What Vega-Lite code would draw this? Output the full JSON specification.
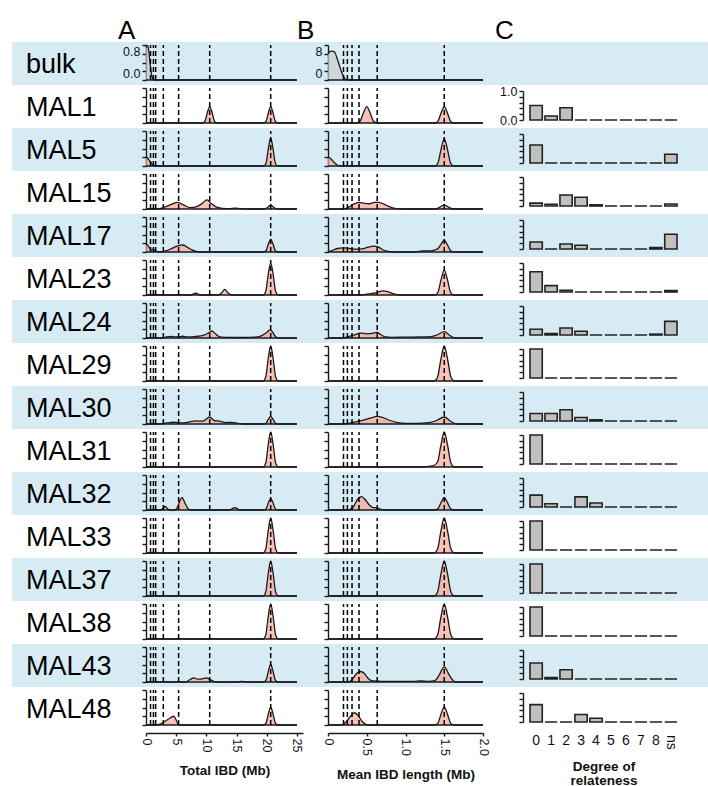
{
"$schema":"https://vega.github.io/schema/vega-lite/v6.json",
"padding":{"left":12,"top":18,"right":0,"bottom":4},
"background":"white",
"columns":4,
"spacing":0,
"bounds":"flush",
"align":"each",
"datasets":{
"dashA":[{"x":0.75},{"x":1.23},{"x":1.6},{"x":2.87},{"x":5.4},{"x":10.55},{"x":20.65}],
"dashB":[{"x":0.2},{"x":0.25},{"x":0.31},{"x":0.4},{"x":0.635},{"x":1.5}]
},
"concat":[
{"width":134,"height":43,"view":{"fill":"#d6ebf3"},"data":{"values":[{"s":"bulk"}]},"mark":{"type":"text","align":"left","baseline":"alphabetic","dy":9,"fontSize":27,"color":"#000"},"encoding":{"text":{"field":"s"},"x":{"datum":0,"type":"quantitative","scale":{"domain":[0,1],"range":[14,134]},"axis":null}}},
{"width":182,"height":43,"view":{"fill":"#d6ebf3"},"title":{"text":"A","dx":-28,"offset":-2},"layer":[
{"data":{"values":[{"x":0,"y":0.74},{"x":0.15,"y":0.79},{"x":0.35,"y":0.76},{"x":0.6,"y":0.48},{"x":0.85,"y":0.18},{"x":1.1,"y":0.04},{"x":1.4,"y":0},{"x":25,"y":0}]},"mark":{"type":"area","interpolate":"monotone","color":"#c9ced1","line":{"color":"#1a1a1a","strokeWidth":1.3}},"encoding":{"x":{"field":"x","type":"quantitative","title":null,"scale":{"domain":[0,25],"range":[0,157]},"axis":null},"y":{"field":"y","type":"quantitative","title":null,"scale":{"domain":[0,0.8],"range":[38,3]},"axis":{"values":[0,0.2,0.4,0.6,0.8],"labels":true,"labelFlush":true,"labelExpr":"datum.value==0||datum.value==0.8?format(datum.value,'.1f'):''"}}}},
{"data":{"values":[{}]},"mark":{"type":"rule","color":"#1a1a1a","strokeWidth":1.4},"encoding":{"x":{"datum":0,"axis":null,"title":null},"x2":{"datum":25},"y":{"datum":0,"title":null,"axis":{"values":[0,0.2,0.4,0.6,0.8],"labels":true,"labelFlush":true,"labelExpr":"datum.value==0||datum.value==0.8?format(datum.value,'.1f'):''"}}}},
{"data":{"name":"dashA"},"mark":{"type":"rule","color":"#000","strokeDash":[5,3],"strokeWidth":1.5},"encoding":{"x":{"field":"x","type":"quantitative","axis":null,"title":null},"y":{"datum":0,"title":null,"axis":{"values":[0,0.2,0.4,0.6,0.8],"labels":true,"labelFlush":true,"labelExpr":"datum.value==0||datum.value==0.8?format(datum.value,'.1f'):''"}},"y2":{"datum":0.8}}}]},
{"width":195,"height":43,"view":{"fill":"#d6ebf3"},"title":{"text":"B","dx":-31,"offset":-2},"layer":[
{"data":{"values":[{"x":0,"y":6.0},{"x":0.04,"y":6.6},{"x":0.08,"y":6.5},{"x":0.12,"y":4.8},{"x":0.16,"y":2.6},{"x":0.2,"y":0.8},{"x":0.23,"y":0.1},{"x":0.26,"y":0},{"x":2,"y":0}]},"mark":{"type":"area","interpolate":"monotone","color":"#c9ced1","line":{"color":"#1a1a1a","strokeWidth":1.3}},"encoding":{"x":{"field":"x","type":"quantitative","title":null,"scale":{"domain":[0,2],"range":[0,155]},"axis":null},"y":{"field":"y","type":"quantitative","title":null,"scale":{"domain":[0,8],"range":[38,3]},"axis":{"values":[0,2,4,6,8],"labels":true,"labelFlush":true,"labelExpr":"datum.value==0||datum.value==8?datum.label:''"}}}},
{"data":{"values":[{}]},"mark":{"type":"rule","color":"#1a1a1a","strokeWidth":1.4},"encoding":{"x":{"datum":0,"axis":null,"title":null},"x2":{"datum":2},"y":{"datum":0,"title":null,"axis":{"values":[0,2,4,6,8],"labels":true,"labelFlush":true,"labelExpr":"datum.value==0||datum.value==8?datum.label:''"}}}},
{"data":{"name":"dashB"},"mark":{"type":"rule","color":"#000","strokeDash":[5,3],"strokeWidth":1.5},"encoding":{"x":{"field":"x","type":"quantitative","axis":null,"title":null},"y":{"datum":0,"title":null,"axis":{"values":[0,2,4,6,8],"labels":true,"labelFlush":true,"labelExpr":"datum.value==0||datum.value==8?datum.label:''"}},"y2":{"datum":8}}}]},
{"width":185,"height":43,"view":{"fill":"#d6ebf3"},"title":{"text":"C","dx":-28,"offset":-2},"data":{"values":[{}]},"mark":{"type":"text","text":""},"encoding":{}},

{"width":134,"height":43,"view":{"fill":"#ffffff"},"data":{"values":[{"s":"MAL1"}]},"mark":{"type":"text","align":"left","baseline":"alphabetic","dy":9,"fontSize":27,"color":"#000"},"encoding":{"text":{"field":"s"},"x":{"datum":0,"type":"quantitative","scale":{"domain":[0,1],"range":[14,134]},"axis":null}}},
{"width":182,"height":43,"view":{"fill":"#ffffff"},"layer":[
{"data":{"values":[{"x":0,"y":0},{"x":9.35,"y":0},{"x":9.77,"y":0.056},{"x":10.13,"y":0.28},{"x":10.55,"y":0.47},{"x":10.97,"y":0.28},{"x":11.33,"y":0.056},{"x":11.75,"y":0},{"x":19.5,"y":0},{"x":19.9,"y":0.056},{"x":20.25,"y":0.28},{"x":20.65,"y":0.47},{"x":21.05,"y":0.28},{"x":21.4,"y":0.056},{"x":21.8,"y":0},{"x":25,"y":0}]},"mark":{"type":"area","interpolate":"monotone","color":"#f6a596","line":{"color":"#1a1a1a","strokeWidth":1.3}},"encoding":{"x":{"field":"x","type":"quantitative","title":null,"scale":{"domain":[0,25],"range":[0,157]},"axis":null},"y":{"field":"y","type":"quantitative","title":null,"scale":{"domain":[0,1],"range":[38,3]},"axis":{"values":[0,0.25,0.5,0.75,1]}}}},
{"data":{"values":[{}]},"mark":{"type":"rule","color":"#1a1a1a","strokeWidth":1.4},"encoding":{"x":{"datum":0,"axis":null,"title":null},"x2":{"datum":25},"y":{"datum":0,"title":null,"axis":{"values":[0,0.25,0.5,0.75,1]}}}},
{"data":{"name":"dashA"},"mark":{"type":"rule","color":"#000","strokeDash":[5,3],"strokeWidth":1.5},"encoding":{"x":{"field":"x","type":"quantitative","axis":null,"title":null},"y":{"datum":0,"title":null,"axis":{"values":[0,0.25,0.5,0.75,1]}},"y2":{"datum":1}}}]},
{"width":195,"height":43,"view":{"fill":"#ffffff"},"layer":[
{"data":{"values":[{"x":0,"y":0},{"x":0.37,"y":0},{"x":0.415,"y":0.056},{"x":0.455,"y":0.28},{"x":0.5,"y":0.47},{"x":0.545,"y":0.28},{"x":0.585,"y":0.056},{"x":0.63,"y":0},{"x":1.38,"y":0},{"x":1.42,"y":0.056},{"x":1.458,"y":0.28},{"x":1.5,"y":0.47},{"x":1.542,"y":0.28},{"x":1.58,"y":0.056},{"x":1.62,"y":0},{"x":2,"y":0}]},"mark":{"type":"area","interpolate":"monotone","color":"#f6a596","line":{"color":"#1a1a1a","strokeWidth":1.3}},"encoding":{"x":{"field":"x","type":"quantitative","title":null,"scale":{"domain":[0,2],"range":[0,155]},"axis":null},"y":{"field":"y","type":"quantitative","title":null,"scale":{"domain":[0,1],"range":[38,3]},"axis":{"values":[0,0.25,0.5,0.75,1]}}}},
{"data":{"values":[{}]},"mark":{"type":"rule","color":"#1a1a1a","strokeWidth":1.4},"encoding":{"x":{"datum":0,"axis":null,"title":null},"x2":{"datum":2},"y":{"datum":0,"title":null,"axis":{"values":[0,0.25,0.5,0.75,1]}}}},
{"data":{"name":"dashB"},"mark":{"type":"rule","color":"#000","strokeDash":[5,3],"strokeWidth":1.5},"encoding":{"x":{"field":"x","type":"quantitative","axis":null,"title":null},"y":{"datum":0,"title":null,"axis":{"values":[0,0.25,0.5,0.75,1]}},"y2":{"datum":1}}}]},
{"width":185,"height":43,"view":{"fill":"#ffffff"},"data":{"values":[{"d":"0","v":0.5},{"d":"1","v":0.14},{"d":"2","v":0.42},{"d":"3","v":0},{"d":"4","v":0},{"d":"5","v":0},{"d":"6","v":0},{"d":"7","v":0},{"d":"8","v":0},{"d":"ns","v":0}]},"mark":{"type":"bar","color":"#c0c0c0","stroke":"#222","strokeWidth":1.6},"encoding":{"x":{"field":"d","type":"nominal","sort":null,"title":null,"scale":{"domain":["0","1","2","3","4","5","6","7","8","ns"],"range":[7,154],"paddingInner":0.18,"paddingOuter":0},"axis":null},"y":{"field":"v","type":"quantitative","title":null,"scale":{"domain":[0,1],"range":[35,6]},"axis":{"values":[0,0.2,0.4,0.6,0.8,1],"labels":true,"labelExpr":"datum.value==0||datum.value==1?format(datum.value,'.1f'):''"}}}},

{"width":134,"height":43,"view":{"fill":"#d6ebf3"},"data":{"values":[{"s":"MAL5"}]},"mark":{"type":"text","align":"left","baseline":"alphabetic","dy":9,"fontSize":27,"color":"#000"},"encoding":{"text":{"field":"s"},"x":{"datum":0,"type":"quantitative","scale":{"domain":[0,1],"range":[14,134]},"axis":null}}},
{"width":182,"height":43,"view":{"fill":"#d6ebf3"},"layer":[
{"data":{"values":[{"x":0,"y":0.26},{"x":0.3,"y":0.22},{"x":0.7,"y":0.12},{"x":1.1,"y":0.04},{"x":1.6,"y":0},{"x":19.5,"y":0},{"x":19.9,"y":0.096},{"x":20.25,"y":0.48},{"x":20.65,"y":0.8},{"x":21.05,"y":0.48},{"x":21.4,"y":0.096},{"x":21.8,"y":0},{"x":25,"y":0}]},"mark":{"type":"area","interpolate":"monotone","color":"#f6a596","line":{"color":"#1a1a1a","strokeWidth":1.3}},"encoding":{"x":{"field":"x","type":"quantitative","title":null,"scale":{"domain":[0,25],"range":[0,157]},"axis":null},"y":{"field":"y","type":"quantitative","title":null,"scale":{"domain":[0,1],"range":[38,3]},"axis":{"values":[0,0.25,0.5,0.75,1]}}}},
{"data":{"values":[{}]},"mark":{"type":"rule","color":"#1a1a1a","strokeWidth":1.4},"encoding":{"x":{"datum":0,"axis":null,"title":null},"x2":{"datum":25},"y":{"datum":0,"title":null,"axis":{"values":[0,0.25,0.5,0.75,1]}}}},
{"data":{"name":"dashA"},"mark":{"type":"rule","color":"#000","strokeDash":[5,3],"strokeWidth":1.5},"encoding":{"x":{"field":"x","type":"quantitative","axis":null,"title":null},"y":{"datum":0,"title":null,"axis":{"values":[0,0.25,0.5,0.75,1]}},"y2":{"datum":1}}}]},
{"width":195,"height":43,"view":{"fill":"#d6ebf3"},"layer":[
{"data":{"values":[{"x":0,"y":0.26},{"x":0.04,"y":0.2},{"x":0.08,"y":0.1},{"x":0.12,"y":0.03},{"x":0.16,"y":0},{"x":1.38,"y":0},{"x":1.42,"y":0.094},{"x":1.458,"y":0.47},{"x":1.5,"y":0.78},{"x":1.542,"y":0.47},{"x":1.58,"y":0.094},{"x":1.62,"y":0},{"x":2,"y":0}]},"mark":{"type":"area","interpolate":"monotone","color":"#f6a596","line":{"color":"#1a1a1a","strokeWidth":1.3}},"encoding":{"x":{"field":"x","type":"quantitative","title":null,"scale":{"domain":[0,2],"range":[0,155]},"axis":null},"y":{"field":"y","type":"quantitative","title":null,"scale":{"domain":[0,1],"range":[38,3]},"axis":{"values":[0,0.25,0.5,0.75,1]}}}},
{"data":{"values":[{}]},"mark":{"type":"rule","color":"#1a1a1a","strokeWidth":1.4},"encoding":{"x":{"datum":0,"axis":null,"title":null},"x2":{"datum":2},"y":{"datum":0,"title":null,"axis":{"values":[0,0.25,0.5,0.75,1]}}}},
{"data":{"name":"dashB"},"mark":{"type":"rule","color":"#000","strokeDash":[5,3],"strokeWidth":1.5},"encoding":{"x":{"field":"x","type":"quantitative","axis":null,"title":null},"y":{"datum":0,"title":null,"axis":{"values":[0,0.25,0.5,0.75,1]}},"y2":{"datum":1}}}]},
{"width":185,"height":43,"view":{"fill":"#d6ebf3"},"data":{"values":[{"d":"0","v":0.62},{"d":"1","v":0},{"d":"2","v":0},{"d":"3","v":0},{"d":"4","v":0},{"d":"5","v":0},{"d":"6","v":0},{"d":"7","v":0},{"d":"8","v":0},{"d":"ns","v":0.3}]},"mark":{"type":"bar","color":"#c0c0c0","stroke":"#222","strokeWidth":1.6},"encoding":{"x":{"field":"d","type":"nominal","sort":null,"title":null,"scale":{"domain":["0","1","2","3","4","5","6","7","8","ns"],"range":[7,154],"paddingInner":0.18,"paddingOuter":0},"axis":null},"y":{"field":"v","type":"quantitative","title":null,"scale":{"domain":[0,1],"range":[35,6]},"axis":{"values":[0,0.2,0.4,0.6,0.8,1]}}}},

{"width":134,"height":43,"view":{"fill":"#ffffff"},"data":{"values":[{"s":"MAL15"}]},"mark":{"type":"text","align":"left","baseline":"alphabetic","dy":9,"fontSize":27,"color":"#000"},"encoding":{"text":{"field":"s"},"x":{"datum":0,"type":"quantitative","scale":{"domain":[0,1],"range":[14,134]},"axis":null}}},
{"width":182,"height":43,"view":{"fill":"#ffffff"},"layer":[
{"data":{"values":[{"x":0,"y":0},{"x":2.0,"y":0},{"x":3.0,"y":0.05},{"x":4.2,"y":0.13},{"x":5.2,"y":0.19},{"x":6.2,"y":0.12},{"x":7.3,"y":0.04},{"x":8.3,"y":0.06},{"x":9.3,"y":0.16},{"x":10.1,"y":0.26},{"x":10.8,"y":0.16},{"x":11.6,"y":0.06},{"x":12.6,"y":0.02},{"x":13.8,"y":0.01},{"x":14.7,"y":0.025},{"x":15.6,"y":0.01},{"x":17,"y":0},{"x":19.6,"y":0},{"x":20.0,"y":0.03},{"x":20.3,"y":0.07},{"x":20.65,"y":0.11},{"x":21.0,"y":0.07},{"x":21.3,"y":0.03},{"x":21.7,"y":0},{"x":25,"y":0}]},"mark":{"type":"area","interpolate":"monotone","color":"#f6a596","line":{"color":"#1a1a1a","strokeWidth":1.3}},"encoding":{"x":{"field":"x","type":"quantitative","title":null,"scale":{"domain":[0,25],"range":[0,157]},"axis":null},"y":{"field":"y","type":"quantitative","title":null,"scale":{"domain":[0,1],"range":[38,3]},"axis":{"values":[0,0.25,0.5,0.75,1]}}}},
{"data":{"values":[{}]},"mark":{"type":"rule","color":"#1a1a1a","strokeWidth":1.4},"encoding":{"x":{"datum":0,"axis":null,"title":null},"x2":{"datum":25},"y":{"datum":0,"title":null,"axis":{"values":[0,0.25,0.5,0.75,1]}}}},
{"data":{"name":"dashA"},"mark":{"type":"rule","color":"#000","strokeDash":[5,3],"strokeWidth":1.5},"encoding":{"x":{"field":"x","type":"quantitative","axis":null,"title":null},"y":{"datum":0,"title":null,"axis":{"values":[0,0.25,0.5,0.75,1]}},"y2":{"datum":1}}}]},
{"width":195,"height":43,"view":{"fill":"#ffffff"},"layer":[
{"data":{"values":[{"x":0,"y":0},{"x":0.2,"y":0},{"x":0.26,"y":0.04},{"x":0.33,"y":0.14},{"x":0.4,"y":0.19},{"x":0.47,"y":0.16},{"x":0.53,"y":0.15},{"x":0.6,"y":0.19},{"x":0.65,"y":0.19},{"x":0.72,"y":0.14},{"x":0.8,"y":0.06},{"x":0.88,"y":0.01},{"x":0.95,"y":0},{"x":1.39,"y":0},{"x":1.44,"y":0.05},{"x":1.5,"y":0.12},{"x":1.56,"y":0.05},{"x":1.61,"y":0},{"x":2,"y":0}]},"mark":{"type":"area","interpolate":"monotone","color":"#f6a596","line":{"color":"#1a1a1a","strokeWidth":1.3}},"encoding":{"x":{"field":"x","type":"quantitative","title":null,"scale":{"domain":[0,2],"range":[0,155]},"axis":null},"y":{"field":"y","type":"quantitative","title":null,"scale":{"domain":[0,1],"range":[38,3]},"axis":{"values":[0,0.25,0.5,0.75,1]}}}},
{"data":{"values":[{}]},"mark":{"type":"rule","color":"#1a1a1a","strokeWidth":1.4},"encoding":{"x":{"datum":0,"axis":null,"title":null},"x2":{"datum":2},"y":{"datum":0,"title":null,"axis":{"values":[0,0.25,0.5,0.75,1]}}}},
{"data":{"name":"dashB"},"mark":{"type":"rule","color":"#000","strokeDash":[5,3],"strokeWidth":1.5},"encoding":{"x":{"field":"x","type":"quantitative","axis":null,"title":null},"y":{"datum":0,"title":null,"axis":{"values":[0,0.25,0.5,0.75,1]}},"y2":{"datum":1}}}]},
{"width":185,"height":43,"view":{"fill":"#ffffff"},"data":{"values":[{"d":"0","v":0.1},{"d":"1","v":0.06},{"d":"2","v":0.38},{"d":"3","v":0.3},{"d":"4","v":0.04},{"d":"5","v":0},{"d":"6","v":0},{"d":"7","v":0},{"d":"8","v":0},{"d":"ns","v":0.07}]},"mark":{"type":"bar","color":"#c0c0c0","stroke":"#222","strokeWidth":1.6},"encoding":{"x":{"field":"d","type":"nominal","sort":null,"title":null,"scale":{"domain":["0","1","2","3","4","5","6","7","8","ns"],"range":[7,154],"paddingInner":0.18,"paddingOuter":0},"axis":null},"y":{"field":"v","type":"quantitative","title":null,"scale":{"domain":[0,1],"range":[35,6]},"axis":{"values":[0,0.2,0.4,0.6,0.8,1]}}}},

{"width":134,"height":43,"view":{"fill":"#d6ebf3"},"data":{"values":[{"s":"MAL17"}]},"mark":{"type":"text","align":"left","baseline":"alphabetic","dy":9,"fontSize":27,"color":"#000"},"encoding":{"text":{"field":"s"},"x":{"datum":0,"type":"quantitative","scale":{"domain":[0,1],"range":[14,134]},"axis":null}}},
{"width":182,"height":43,"view":{"fill":"#d6ebf3"},"layer":[
{"data":{"values":[{"x":0,"y":0.22},{"x":0.3,"y":0.2},{"x":0.6,"y":0.11},{"x":0.9,"y":0.06},{"x":1.2,"y":0.08},{"x":1.5,"y":0.03},{"x":2.2,"y":0},{"x":3.3,"y":0.03},{"x":4.5,"y":0.12},{"x":5.5,"y":0.19},{"x":6.1,"y":0.2},{"x":6.8,"y":0.14},{"x":7.6,"y":0.06},{"x":8.5,"y":0.01},{"x":9.3,"y":0},{"x":19.5,"y":0},{"x":19.9,"y":0.043},{"x":20.25,"y":0.22},{"x":20.65,"y":0.36},{"x":21.05,"y":0.22},{"x":21.4,"y":0.043},{"x":21.8,"y":0},{"x":25,"y":0}]},"mark":{"type":"area","interpolate":"monotone","color":"#f6a596","line":{"color":"#1a1a1a","strokeWidth":1.3}},"encoding":{"x":{"field":"x","type":"quantitative","title":null,"scale":{"domain":[0,25],"range":[0,157]},"axis":null},"y":{"field":"y","type":"quantitative","title":null,"scale":{"domain":[0,1],"range":[38,3]},"axis":{"values":[0,0.25,0.5,0.75,1]}}}},
{"data":{"values":[{}]},"mark":{"type":"rule","color":"#1a1a1a","strokeWidth":1.4},"encoding":{"x":{"datum":0,"axis":null,"title":null},"x2":{"datum":25},"y":{"datum":0,"title":null,"axis":{"values":[0,0.25,0.5,0.75,1]}}}},
{"data":{"name":"dashA"},"mark":{"type":"rule","color":"#000","strokeDash":[5,3],"strokeWidth":1.5},"encoding":{"x":{"field":"x","type":"quantitative","axis":null,"title":null},"y":{"datum":0,"title":null,"axis":{"values":[0,0.25,0.5,0.75,1]}},"y2":{"datum":1}}}]},
{"width":195,"height":43,"view":{"fill":"#d6ebf3"},"layer":[
{"data":{"values":[{"x":0,"y":0},{"x":0.05,"y":0.04},{"x":0.12,"y":0.1},{"x":0.2,"y":0.12},{"x":0.28,"y":0.1},{"x":0.36,"y":0.08},{"x":0.44,"y":0.09},{"x":0.52,"y":0.14},{"x":0.59,"y":0.17},{"x":0.65,"y":0.14},{"x":0.72,"y":0.05},{"x":0.8,"y":0.01},{"x":0.9,"y":0},{"x":1.12,"y":0},{"x":1.22,"y":0.03},{"x":1.32,"y":0.03},{"x":1.38,"y":0.06},{"x":1.42,"y":0.1},{"x":1.458,"y":0.22},{"x":1.5,"y":0.34},{"x":1.542,"y":0.2},{"x":1.58,"y":0.04},{"x":1.62,"y":0},{"x":2,"y":0}]},"mark":{"type":"area","interpolate":"monotone","color":"#f6a596","line":{"color":"#1a1a1a","strokeWidth":1.3}},"encoding":{"x":{"field":"x","type":"quantitative","title":null,"scale":{"domain":[0,2],"range":[0,155]},"axis":null},"y":{"field":"y","type":"quantitative","title":null,"scale":{"domain":[0,1],"range":[38,3]},"axis":{"values":[0,0.25,0.5,0.75,1]}}}},
{"data":{"values":[{}]},"mark":{"type":"rule","color":"#1a1a1a","strokeWidth":1.4},"encoding":{"x":{"datum":0,"axis":null,"title":null},"x2":{"datum":2},"y":{"datum":0,"title":null,"axis":{"values":[0,0.25,0.5,0.75,1]}}}},
{"data":{"name":"dashB"},"mark":{"type":"rule","color":"#000","strokeDash":[5,3],"strokeWidth":1.5},"encoding":{"x":{"field":"x","type":"quantitative","axis":null,"title":null},"y":{"datum":0,"title":null,"axis":{"values":[0,0.25,0.5,0.75,1]}},"y2":{"datum":1}}}]},
{"width":185,"height":43,"view":{"fill":"#d6ebf3"},"data":{"values":[{"d":"0","v":0.24},{"d":"1","v":0},{"d":"2","v":0.17},{"d":"3","v":0.13},{"d":"4","v":0},{"d":"5","v":0},{"d":"6","v":0},{"d":"7","v":0},{"d":"8","v":0.05},{"d":"ns","v":0.51}]},"mark":{"type":"bar","color":"#c0c0c0","stroke":"#222","strokeWidth":1.6},"encoding":{"x":{"field":"d","type":"nominal","sort":null,"title":null,"scale":{"domain":["0","1","2","3","4","5","6","7","8","ns"],"range":[7,154],"paddingInner":0.18,"paddingOuter":0},"axis":null},"y":{"field":"v","type":"quantitative","title":null,"scale":{"domain":[0,1],"range":[35,6]},"axis":{"values":[0,0.2,0.4,0.6,0.8,1]}}}},

{"width":134,"height":43,"view":{"fill":"#ffffff"},"data":{"values":[{"s":"MAL23"}]},"mark":{"type":"text","align":"left","baseline":"alphabetic","dy":9,"fontSize":27,"color":"#000"},"encoding":{"text":{"field":"s"},"x":{"datum":0,"type":"quantitative","scale":{"domain":[0,1],"range":[14,134]},"axis":null}}},
{"width":182,"height":43,"view":{"fill":"#ffffff"},"layer":[
{"data":{"values":[{"x":0,"y":0},{"x":7.4,"y":0},{"x":8.2,"y":0.05},{"x":9.0,"y":0},{"x":11.9,"y":0},{"x":12.5,"y":0.06},{"x":13.05,"y":0.16},{"x":13.6,"y":0.06},{"x":14.2,"y":0},{"x":19.4,"y":0},{"x":19.84,"y":0.11},{"x":20.21,"y":0.55},{"x":20.65,"y":0.92},{"x":21.09,"y":0.55},{"x":21.46,"y":0.11},{"x":21.9,"y":0},{"x":25,"y":0}]},"mark":{"type":"area","interpolate":"monotone","color":"#f6a596","line":{"color":"#1a1a1a","strokeWidth":1.3}},"encoding":{"x":{"field":"x","type":"quantitative","title":null,"scale":{"domain":[0,25],"range":[0,157]},"axis":null},"y":{"field":"y","type":"quantitative","title":null,"scale":{"domain":[0,1],"range":[38,3]},"axis":{"values":[0,0.25,0.5,0.75,1]}}}},
{"data":{"values":[{}]},"mark":{"type":"rule","color":"#1a1a1a","strokeWidth":1.4},"encoding":{"x":{"datum":0,"axis":null,"title":null},"x2":{"datum":25},"y":{"datum":0,"title":null,"axis":{"values":[0,0.25,0.5,0.75,1]}}}},
{"data":{"name":"dashA"},"mark":{"type":"rule","color":"#000","strokeDash":[5,3],"strokeWidth":1.5},"encoding":{"x":{"field":"x","type":"quantitative","axis":null,"title":null},"y":{"datum":0,"title":null,"axis":{"values":[0,0.25,0.5,0.75,1]}},"y2":{"datum":1}}}]},
{"width":195,"height":43,"view":{"fill":"#ffffff"},"layer":[
{"data":{"values":[{"x":0,"y":0},{"x":0.42,"y":0},{"x":0.52,"y":0.03},{"x":0.62,"y":0.06},{"x":0.71,"y":0.12},{"x":0.78,"y":0.09},{"x":0.85,"y":0.03},{"x":0.92,"y":0},{"x":1.38,"y":0},{"x":1.42,"y":0.085},{"x":1.458,"y":0.43},{"x":1.5,"y":0.71},{"x":1.542,"y":0.43},{"x":1.58,"y":0.085},{"x":1.62,"y":0},{"x":2,"y":0}]},"mark":{"type":"area","interpolate":"monotone","color":"#f6a596","line":{"color":"#1a1a1a","strokeWidth":1.3}},"encoding":{"x":{"field":"x","type":"quantitative","title":null,"scale":{"domain":[0,2],"range":[0,155]},"axis":null},"y":{"field":"y","type":"quantitative","title":null,"scale":{"domain":[0,1],"range":[38,3]},"axis":{"values":[0,0.25,0.5,0.75,1]}}}},
{"data":{"values":[{}]},"mark":{"type":"rule","color":"#1a1a1a","strokeWidth":1.4},"encoding":{"x":{"datum":0,"axis":null,"title":null},"x2":{"datum":2},"y":{"datum":0,"title":null,"axis":{"values":[0,0.25,0.5,0.75,1]}}}},
{"data":{"name":"dashB"},"mark":{"type":"rule","color":"#000","strokeDash":[5,3],"strokeWidth":1.5},"encoding":{"x":{"field":"x","type":"quantitative","axis":null,"title":null},"y":{"datum":0,"title":null,"axis":{"values":[0,0.25,0.5,0.75,1]}},"y2":{"datum":1}}}]},
{"width":185,"height":43,"view":{"fill":"#ffffff"},"data":{"values":[{"d":"0","v":0.7},{"d":"1","v":0.22},{"d":"2","v":0.06},{"d":"3","v":0},{"d":"4","v":0},{"d":"5","v":0},{"d":"6","v":0},{"d":"7","v":0},{"d":"8","v":0},{"d":"ns","v":0.05}]},"mark":{"type":"bar","color":"#c0c0c0","stroke":"#222","strokeWidth":1.6},"encoding":{"x":{"field":"d","type":"nominal","sort":null,"title":null,"scale":{"domain":["0","1","2","3","4","5","6","7","8","ns"],"range":[7,154],"paddingInner":0.18,"paddingOuter":0},"axis":null},"y":{"field":"v","type":"quantitative","title":null,"scale":{"domain":[0,1],"range":[35,6]},"axis":{"values":[0,0.2,0.4,0.6,0.8,1]}}}},

{"width":134,"height":43,"view":{"fill":"#d6ebf3"},"data":{"values":[{"s":"MAL24"}]},"mark":{"type":"text","align":"left","baseline":"alphabetic","dy":9,"fontSize":27,"color":"#000"},"encoding":{"text":{"field":"s"},"x":{"datum":0,"type":"quantitative","scale":{"domain":[0,1],"range":[14,134]},"axis":null}}},
{"width":182,"height":43,"view":{"fill":"#d6ebf3"},"layer":[
{"data":{"values":[{"x":0,"y":0},{"x":2.7,"y":0},{"x":3.4,"y":0.03},{"x":4.1,"y":0.045},{"x":4.8,"y":0.03},{"x":5.4,"y":0.03},{"x":6.1,"y":0.05},{"x":6.8,"y":0.03},{"x":7.6,"y":0.03},{"x":8.6,"y":0.05},{"x":9.6,"y":0.08},{"x":10.4,"y":0.15},{"x":10.9,"y":0.2},{"x":11.5,"y":0.12},{"x":12.2,"y":0.03},{"x":13,"y":0.02},{"x":16,"y":0.015},{"x":18.5,"y":0.03},{"x":19.4,"y":0.09},{"x":20.1,"y":0.17},{"x":20.55,"y":0.24},{"x":21.0,"y":0.16},{"x":21.4,"y":0.05},{"x":22,"y":0},{"x":25,"y":0}]},"mark":{"type":"area","interpolate":"monotone","color":"#f6a596","line":{"color":"#1a1a1a","strokeWidth":1.3}},"encoding":{"x":{"field":"x","type":"quantitative","title":null,"scale":{"domain":[0,25],"range":[0,157]},"axis":null},"y":{"field":"y","type":"quantitative","title":null,"scale":{"domain":[0,1],"range":[38,3]},"axis":{"values":[0,0.25,0.5,0.75,1]}}}},
{"data":{"values":[{}]},"mark":{"type":"rule","color":"#1a1a1a","strokeWidth":1.4},"encoding":{"x":{"datum":0,"axis":null,"title":null},"x2":{"datum":25},"y":{"datum":0,"title":null,"axis":{"values":[0,0.25,0.5,0.75,1]}}}},
{"data":{"name":"dashA"},"mark":{"type":"rule","color":"#000","strokeDash":[5,3],"strokeWidth":1.5},"encoding":{"x":{"field":"x","type":"quantitative","axis":null,"title":null},"y":{"datum":0,"title":null,"axis":{"values":[0,0.25,0.5,0.75,1]}},"y2":{"datum":1}}}]},
{"width":195,"height":43,"view":{"fill":"#d6ebf3"},"layer":[
{"data":{"values":[{"x":0,"y":0},{"x":0.18,"y":0},{"x":0.25,"y":0.03},{"x":0.33,"y":0.08},{"x":0.42,"y":0.14},{"x":0.5,"y":0.12},{"x":0.57,"y":0.13},{"x":0.63,"y":0.16},{"x":0.68,"y":0.1},{"x":0.74,"y":0.03},{"x":0.82,"y":0.02},{"x":1.0,"y":0.025},{"x":1.2,"y":0.03},{"x":1.33,"y":0.04},{"x":1.42,"y":0.1},{"x":1.5,"y":0.18},{"x":1.57,"y":0.08},{"x":1.64,"y":0},{"x":2,"y":0}]},"mark":{"type":"area","interpolate":"monotone","color":"#f6a596","line":{"color":"#1a1a1a","strokeWidth":1.3}},"encoding":{"x":{"field":"x","type":"quantitative","title":null,"scale":{"domain":[0,2],"range":[0,155]},"axis":null},"y":{"field":"y","type":"quantitative","title":null,"scale":{"domain":[0,1],"range":[38,3]},"axis":{"values":[0,0.25,0.5,0.75,1]}}}},
{"data":{"values":[{}]},"mark":{"type":"rule","color":"#1a1a1a","strokeWidth":1.4},"encoding":{"x":{"datum":0,"axis":null,"title":null},"x2":{"datum":2},"y":{"datum":0,"title":null,"axis":{"values":[0,0.25,0.5,0.75,1]}}}},
{"data":{"name":"dashB"},"mark":{"type":"rule","color":"#000","strokeDash":[5,3],"strokeWidth":1.5},"encoding":{"x":{"field":"x","type":"quantitative","axis":null,"title":null},"y":{"datum":0,"title":null,"axis":{"values":[0,0.25,0.5,0.75,1]}},"y2":{"datum":1}}}]},
{"width":185,"height":43,"view":{"fill":"#d6ebf3"},"data":{"values":[{"d":"0","v":0.2},{"d":"1","v":0.05},{"d":"2","v":0.24},{"d":"3","v":0.13},{"d":"4","v":0},{"d":"5","v":0},{"d":"6","v":0},{"d":"7","v":0},{"d":"8","v":0.03},{"d":"ns","v":0.47}]},"mark":{"type":"bar","color":"#c0c0c0","stroke":"#222","strokeWidth":1.6},"encoding":{"x":{"field":"d","type":"nominal","sort":null,"title":null,"scale":{"domain":["0","1","2","3","4","5","6","7","8","ns"],"range":[7,154],"paddingInner":0.18,"paddingOuter":0},"axis":null},"y":{"field":"v","type":"quantitative","title":null,"scale":{"domain":[0,1],"range":[35,6]},"axis":{"values":[0,0.2,0.4,0.6,0.8,1]}}}},

{"width":134,"height":43,"view":{"fill":"#ffffff"},"data":{"values":[{"s":"MAL29"}]},"mark":{"type":"text","align":"left","baseline":"alphabetic","dy":9,"fontSize":27,"color":"#000"},"encoding":{"text":{"field":"s"},"x":{"datum":0,"type":"quantitative","scale":{"domain":[0,1],"range":[14,134]},"axis":null}}},
{"width":182,"height":43,"view":{"fill":"#ffffff"},"layer":[
{"data":{"values":[{"x":0,"y":0},{"x":19.4,"y":0},{"x":19.84,"y":0.12},{"x":20.21,"y":0.6},{"x":20.65,"y":1},{"x":21.09,"y":0.6},{"x":21.46,"y":0.12},{"x":21.9,"y":0},{"x":25,"y":0}]},"mark":{"type":"area","interpolate":"monotone","color":"#f6a596","line":{"color":"#1a1a1a","strokeWidth":1.3}},"encoding":{"x":{"field":"x","type":"quantitative","title":null,"scale":{"domain":[0,25],"range":[0,157]},"axis":null},"y":{"field":"y","type":"quantitative","title":null,"scale":{"domain":[0,1],"range":[38,3]},"axis":{"values":[0,0.25,0.5,0.75,1]}}}},
{"data":{"values":[{}]},"mark":{"type":"rule","color":"#1a1a1a","strokeWidth":1.4},"encoding":{"x":{"datum":0,"axis":null,"title":null},"x2":{"datum":25},"y":{"datum":0,"title":null,"axis":{"values":[0,0.25,0.5,0.75,1]}}}},
{"data":{"name":"dashA"},"mark":{"type":"rule","color":"#000","strokeDash":[5,3],"strokeWidth":1.5},"encoding":{"x":{"field":"x","type":"quantitative","axis":null,"title":null},"y":{"datum":0,"title":null,"axis":{"values":[0,0.25,0.5,0.75,1]}},"y2":{"datum":1}}}]},
{"width":195,"height":43,"view":{"fill":"#ffffff"},"layer":[
{"data":{"values":[{"x":0,"y":0},{"x":1.37,"y":0},{"x":1.415,"y":0.12},{"x":1.455,"y":0.6},{"x":1.5,"y":1},{"x":1.545,"y":0.6},{"x":1.585,"y":0.12},{"x":1.63,"y":0},{"x":2,"y":0}]},"mark":{"type":"area","interpolate":"monotone","color":"#f6a596","line":{"color":"#1a1a1a","strokeWidth":1.3}},"encoding":{"x":{"field":"x","type":"quantitative","title":null,"scale":{"domain":[0,2],"range":[0,155]},"axis":null},"y":{"field":"y","type":"quantitative","title":null,"scale":{"domain":[0,1],"range":[38,3]},"axis":{"values":[0,0.25,0.5,0.75,1]}}}},
{"data":{"values":[{}]},"mark":{"type":"rule","color":"#1a1a1a","strokeWidth":1.4},"encoding":{"x":{"datum":0,"axis":null,"title":null},"x2":{"datum":2},"y":{"datum":0,"title":null,"axis":{"values":[0,0.25,0.5,0.75,1]}}}},
{"data":{"name":"dashB"},"mark":{"type":"rule","color":"#000","strokeDash":[5,3],"strokeWidth":1.5},"encoding":{"x":{"field":"x","type":"quantitative","axis":null,"title":null},"y":{"datum":0,"title":null,"axis":{"values":[0,0.25,0.5,0.75,1]}},"y2":{"datum":1}}}]},
{"width":185,"height":43,"view":{"fill":"#ffffff"},"data":{"values":[{"d":"0","v":1},{"d":"1","v":0},{"d":"2","v":0},{"d":"3","v":0},{"d":"4","v":0},{"d":"5","v":0},{"d":"6","v":0},{"d":"7","v":0},{"d":"8","v":0},{"d":"ns","v":0}]},"mark":{"type":"bar","color":"#c0c0c0","stroke":"#222","strokeWidth":1.6},"encoding":{"x":{"field":"d","type":"nominal","sort":null,"title":null,"scale":{"domain":["0","1","2","3","4","5","6","7","8","ns"],"range":[7,154],"paddingInner":0.18,"paddingOuter":0},"axis":null},"y":{"field":"v","type":"quantitative","title":null,"scale":{"domain":[0,1],"range":[35,6]},"axis":{"values":[0,0.2,0.4,0.6,0.8,1]}}}},

{"width":134,"height":43,"view":{"fill":"#d6ebf3"},"data":{"values":[{"s":"MAL30"}]},"mark":{"type":"text","align":"left","baseline":"alphabetic","dy":9,"fontSize":27,"color":"#000"},"encoding":{"text":{"field":"s"},"x":{"datum":0,"type":"quantitative","scale":{"domain":[0,1],"range":[14,134]},"axis":null}}},
{"width":182,"height":43,"view":{"fill":"#d6ebf3"},"layer":[
{"data":{"values":[{"x":0,"y":0},{"x":2.3,"y":0},{"x":3.4,"y":0.03},{"x":4.6,"y":0.05},{"x":5.8,"y":0.03},{"x":7.2,"y":0.06},{"x":8.3,"y":0.09},{"x":9.3,"y":0.08},{"x":10.0,"y":0.14},{"x":10.5,"y":0.2},{"x":11.3,"y":0.1},{"x":12.2,"y":0.08},{"x":13.2,"y":0.04},{"x":14.2,"y":0.045},{"x":15.2,"y":0.02},{"x":16.2,"y":0},{"x":19.5,"y":0},{"x":19.9,"y":0.03},{"x":20.25,"y":0.13},{"x":20.65,"y":0.22},{"x":21.05,"y":0.13},{"x":21.4,"y":0.03},{"x":21.8,"y":0},{"x":25,"y":0}]},"mark":{"type":"area","interpolate":"monotone","color":"#f6a596","line":{"color":"#1a1a1a","strokeWidth":1.3}},"encoding":{"x":{"field":"x","type":"quantitative","title":null,"scale":{"domain":[0,25],"range":[0,157]},"axis":null},"y":{"field":"y","type":"quantitative","title":null,"scale":{"domain":[0,1],"range":[38,3]},"axis":{"values":[0,0.25,0.5,0.75,1]}}}},
{"data":{"values":[{}]},"mark":{"type":"rule","color":"#1a1a1a","strokeWidth":1.4},"encoding":{"x":{"datum":0,"axis":null,"title":null},"x2":{"datum":25},"y":{"datum":0,"title":null,"axis":{"values":[0,0.25,0.5,0.75,1]}}}},
{"data":{"name":"dashA"},"mark":{"type":"rule","color":"#000","strokeDash":[5,3],"strokeWidth":1.5},"encoding":{"x":{"field":"x","type":"quantitative","axis":null,"title":null},"y":{"datum":0,"title":null,"axis":{"values":[0,0.25,0.5,0.75,1]}},"y2":{"datum":1}}}]},
{"width":195,"height":43,"view":{"fill":"#d6ebf3"},"layer":[
{"data":{"values":[{"x":0,"y":0},{"x":0.2,"y":0},{"x":0.3,"y":0.03},{"x":0.4,"y":0.08},{"x":0.5,"y":0.14},{"x":0.58,"y":0.19},{"x":0.64,"y":0.22},{"x":0.7,"y":0.19},{"x":0.8,"y":0.1},{"x":0.9,"y":0.04},{"x":1.0,"y":0.02},{"x":1.15,"y":0.02},{"x":1.3,"y":0.04},{"x":1.4,"y":0.1},{"x":1.5,"y":0.2},{"x":1.58,"y":0.08},{"x":1.66,"y":0},{"x":2,"y":0}]},"mark":{"type":"area","interpolate":"monotone","color":"#f6a596","line":{"color":"#1a1a1a","strokeWidth":1.3}},"encoding":{"x":{"field":"x","type":"quantitative","title":null,"scale":{"domain":[0,2],"range":[0,155]},"axis":null},"y":{"field":"y","type":"quantitative","title":null,"scale":{"domain":[0,1],"range":[38,3]},"axis":{"values":[0,0.25,0.5,0.75,1]}}}},
{"data":{"values":[{}]},"mark":{"type":"rule","color":"#1a1a1a","strokeWidth":1.4},"encoding":{"x":{"datum":0,"axis":null,"title":null},"x2":{"datum":2},"y":{"datum":0,"title":null,"axis":{"values":[0,0.25,0.5,0.75,1]}}}},
{"data":{"name":"dashB"},"mark":{"type":"rule","color":"#000","strokeDash":[5,3],"strokeWidth":1.5},"encoding":{"x":{"field":"x","type":"quantitative","axis":null,"title":null},"y":{"datum":0,"title":null,"axis":{"values":[0,0.25,0.5,0.75,1]}},"y2":{"datum":1}}}]},
{"width":185,"height":43,"view":{"fill":"#d6ebf3"},"data":{"values":[{"d":"0","v":0.26},{"d":"1","v":0.26},{"d":"2","v":0.39},{"d":"3","v":0.12},{"d":"4","v":0.04},{"d":"5","v":0},{"d":"6","v":0},{"d":"7","v":0},{"d":"8","v":0},{"d":"ns","v":0}]},"mark":{"type":"bar","color":"#c0c0c0","stroke":"#222","strokeWidth":1.6},"encoding":{"x":{"field":"d","type":"nominal","sort":null,"title":null,"scale":{"domain":["0","1","2","3","4","5","6","7","8","ns"],"range":[7,154],"paddingInner":0.18,"paddingOuter":0},"axis":null},"y":{"field":"v","type":"quantitative","title":null,"scale":{"domain":[0,1],"range":[35,6]},"axis":{"values":[0,0.2,0.4,0.6,0.8,1]}}}},

{"width":134,"height":43,"view":{"fill":"#ffffff"},"data":{"values":[{"s":"MAL31"}]},"mark":{"type":"text","align":"left","baseline":"alphabetic","dy":9,"fontSize":27,"color":"#000"},"encoding":{"text":{"field":"s"},"x":{"datum":0,"type":"quantitative","scale":{"domain":[0,1],"range":[14,134]},"axis":null}}},
{"width":182,"height":43,"view":{"fill":"#ffffff"},"layer":[
{"data":{"values":[{"x":0,"y":0},{"x":19.4,"y":0},{"x":19.84,"y":0.12},{"x":20.21,"y":0.6},{"x":20.65,"y":1},{"x":21.09,"y":0.6},{"x":21.46,"y":0.12},{"x":21.9,"y":0},{"x":25,"y":0}]},"mark":{"type":"area","interpolate":"monotone","color":"#f6a596","line":{"color":"#1a1a1a","strokeWidth":1.3}},"encoding":{"x":{"field":"x","type":"quantitative","title":null,"scale":{"domain":[0,25],"range":[0,157]},"axis":null},"y":{"field":"y","type":"quantitative","title":null,"scale":{"domain":[0,1],"range":[38,3]},"axis":{"values":[0,0.25,0.5,0.75,1]}}}},
{"data":{"values":[{}]},"mark":{"type":"rule","color":"#1a1a1a","strokeWidth":1.4},"encoding":{"x":{"datum":0,"axis":null,"title":null},"x2":{"datum":25},"y":{"datum":0,"title":null,"axis":{"values":[0,0.25,0.5,0.75,1]}}}},
{"data":{"name":"dashA"},"mark":{"type":"rule","color":"#000","strokeDash":[5,3],"strokeWidth":1.5},"encoding":{"x":{"field":"x","type":"quantitative","axis":null,"title":null},"y":{"datum":0,"title":null,"axis":{"values":[0,0.25,0.5,0.75,1]}},"y2":{"datum":1}}}]},
{"width":195,"height":43,"view":{"fill":"#ffffff"},"layer":[
{"data":{"values":[{"x":0,"y":0},{"x":1.2,"y":0},{"x":1.3,"y":0.02},{"x":1.37,"y":0.05},{"x":1.415,"y":0.15},{"x":1.455,"y":0.6},{"x":1.5,"y":1},{"x":1.545,"y":0.6},{"x":1.585,"y":0.12},{"x":1.63,"y":0},{"x":2,"y":0}]},"mark":{"type":"area","interpolate":"monotone","color":"#f6a596","line":{"color":"#1a1a1a","strokeWidth":1.3}},"encoding":{"x":{"field":"x","type":"quantitative","title":null,"scale":{"domain":[0,2],"range":[0,155]},"axis":null},"y":{"field":"y","type":"quantitative","title":null,"scale":{"domain":[0,1],"range":[38,3]},"axis":{"values":[0,0.25,0.5,0.75,1]}}}},
{"data":{"values":[{}]},"mark":{"type":"rule","color":"#1a1a1a","strokeWidth":1.4},"encoding":{"x":{"datum":0,"axis":null,"title":null},"x2":{"datum":2},"y":{"datum":0,"title":null,"axis":{"values":[0,0.25,0.5,0.75,1]}}}},
{"data":{"name":"dashB"},"mark":{"type":"rule","color":"#000","strokeDash":[5,3],"strokeWidth":1.5},"encoding":{"x":{"field":"x","type":"quantitative","axis":null,"title":null},"y":{"datum":0,"title":null,"axis":{"values":[0,0.25,0.5,0.75,1]}},"y2":{"datum":1}}}]},
{"width":185,"height":43,"view":{"fill":"#ffffff"},"data":{"values":[{"d":"0","v":1},{"d":"1","v":0},{"d":"2","v":0},{"d":"3","v":0},{"d":"4","v":0},{"d":"5","v":0},{"d":"6","v":0},{"d":"7","v":0},{"d":"8","v":0},{"d":"ns","v":0}]},"mark":{"type":"bar","color":"#c0c0c0","stroke":"#222","strokeWidth":1.6},"encoding":{"x":{"field":"d","type":"nominal","sort":null,"title":null,"scale":{"domain":["0","1","2","3","4","5","6","7","8","ns"],"range":[7,154],"paddingInner":0.18,"paddingOuter":0},"axis":null},"y":{"field":"v","type":"quantitative","title":null,"scale":{"domain":[0,1],"range":[35,6]},"axis":{"values":[0,0.2,0.4,0.6,0.8,1]}}}},

{"width":134,"height":43,"view":{"fill":"#d6ebf3"},"data":{"values":[{"s":"MAL32"}]},"mark":{"type":"text","align":"left","baseline":"alphabetic","dy":9,"fontSize":27,"color":"#000"},"encoding":{"text":{"field":"s"},"x":{"datum":0,"type":"quantitative","scale":{"domain":[0,1],"range":[14,134]},"axis":null}}},
{"width":182,"height":43,"view":{"fill":"#d6ebf3"},"layer":[
{"data":{"values":[{"x":0,"y":0},{"x":2.4,"y":0},{"x":2.8,"y":0.04},{"x":3.15,"y":0.1},{"x":3.55,"y":0.04},{"x":3.95,"y":0},{"x":4.8,"y":0},{"x":5.3,"y":0.12},{"x":5.7,"y":0.3},{"x":6.0,"y":0.35},{"x":6.4,"y":0.22},{"x":6.9,"y":0.05},{"x":7.4,"y":0},{"x":13.8,"y":0},{"x":14.3,"y":0.04},{"x":14.7,"y":0.07},{"x":15.1,"y":0.04},{"x":15.6,"y":0},{"x":19.5,"y":0},{"x":19.9,"y":0.04},{"x":20.25,"y":0.2},{"x":20.65,"y":0.33},{"x":21.05,"y":0.2},{"x":21.4,"y":0.04},{"x":21.8,"y":0},{"x":25,"y":0}]},"mark":{"type":"area","interpolate":"monotone","color":"#f6a596","line":{"color":"#1a1a1a","strokeWidth":1.3}},"encoding":{"x":{"field":"x","type":"quantitative","title":null,"scale":{"domain":[0,25],"range":[0,157]},"axis":null},"y":{"field":"y","type":"quantitative","title":null,"scale":{"domain":[0,1],"range":[38,3]},"axis":{"values":[0,0.25,0.5,0.75,1]}}}},
{"data":{"values":[{}]},"mark":{"type":"rule","color":"#1a1a1a","strokeWidth":1.4},"encoding":{"x":{"datum":0,"axis":null,"title":null},"x2":{"datum":25},"y":{"datum":0,"title":null,"axis":{"values":[0,0.25,0.5,0.75,1]}}}},
{"data":{"name":"dashA"},"mark":{"type":"rule","color":"#000","strokeDash":[5,3],"strokeWidth":1.5},"encoding":{"x":{"field":"x","type":"quantitative","axis":null,"title":null},"y":{"datum":0,"title":null,"axis":{"values":[0,0.25,0.5,0.75,1]}},"y2":{"datum":1}}}]},
{"width":195,"height":43,"view":{"fill":"#d6ebf3"},"layer":[
{"data":{"values":[{"x":0,"y":0},{"x":0.27,"y":0},{"x":0.33,"y":0.1},{"x":0.38,"y":0.3},{"x":0.43,"y":0.38},{"x":0.48,"y":0.3},{"x":0.53,"y":0.15},{"x":0.58,"y":0.07},{"x":0.63,"y":0.06},{"x":0.68,"y":0.02},{"x":0.74,"y":0},{"x":1.38,"y":0},{"x":1.42,"y":0.042},{"x":1.458,"y":0.21},{"x":1.5,"y":0.35},{"x":1.542,"y":0.21},{"x":1.58,"y":0.042},{"x":1.62,"y":0},{"x":2,"y":0}]},"mark":{"type":"area","interpolate":"monotone","color":"#f6a596","line":{"color":"#1a1a1a","strokeWidth":1.3}},"encoding":{"x":{"field":"x","type":"quantitative","title":null,"scale":{"domain":[0,2],"range":[0,155]},"axis":null},"y":{"field":"y","type":"quantitative","title":null,"scale":{"domain":[0,1],"range":[38,3]},"axis":{"values":[0,0.25,0.5,0.75,1]}}}},
{"data":{"values":[{}]},"mark":{"type":"rule","color":"#1a1a1a","strokeWidth":1.4},"encoding":{"x":{"datum":0,"axis":null,"title":null},"x2":{"datum":2},"y":{"datum":0,"title":null,"axis":{"values":[0,0.25,0.5,0.75,1]}}}},
{"data":{"name":"dashB"},"mark":{"type":"rule","color":"#000","strokeDash":[5,3],"strokeWidth":1.5},"encoding":{"x":{"field":"x","type":"quantitative","axis":null,"title":null},"y":{"datum":0,"title":null,"axis":{"values":[0,0.25,0.5,0.75,1]}},"y2":{"datum":1}}}]},
{"width":185,"height":43,"view":{"fill":"#d6ebf3"},"data":{"values":[{"d":"0","v":0.41},{"d":"1","v":0.11},{"d":"2","v":0},{"d":"3","v":0.35},{"d":"4","v":0.14},{"d":"5","v":0},{"d":"6","v":0},{"d":"7","v":0},{"d":"8","v":0},{"d":"ns","v":0}]},"mark":{"type":"bar","color":"#c0c0c0","stroke":"#222","strokeWidth":1.6},"encoding":{"x":{"field":"d","type":"nominal","sort":null,"title":null,"scale":{"domain":["0","1","2","3","4","5","6","7","8","ns"],"range":[7,154],"paddingInner":0.18,"paddingOuter":0},"axis":null},"y":{"field":"v","type":"quantitative","title":null,"scale":{"domain":[0,1],"range":[35,6]},"axis":{"values":[0,0.2,0.4,0.6,0.8,1]}}}},

{"width":134,"height":43,"view":{"fill":"#ffffff"},"data":{"values":[{"s":"MAL33"}]},"mark":{"type":"text","align":"left","baseline":"alphabetic","dy":9,"fontSize":27,"color":"#000"},"encoding":{"text":{"field":"s"},"x":{"datum":0,"type":"quantitative","scale":{"domain":[0,1],"range":[14,134]},"axis":null}}},
{"width":182,"height":43,"view":{"fill":"#ffffff"},"layer":[
{"data":{"values":[{"x":0,"y":0},{"x":19.4,"y":0},{"x":19.84,"y":0.12},{"x":20.21,"y":0.6},{"x":20.65,"y":1},{"x":21.09,"y":0.6},{"x":21.46,"y":0.12},{"x":21.9,"y":0},{"x":25,"y":0}]},"mark":{"type":"area","interpolate":"monotone","color":"#f6a596","line":{"color":"#1a1a1a","strokeWidth":1.3}},"encoding":{"x":{"field":"x","type":"quantitative","title":null,"scale":{"domain":[0,25],"range":[0,157]},"axis":null},"y":{"field":"y","type":"quantitative","title":null,"scale":{"domain":[0,1],"range":[38,3]},"axis":{"values":[0,0.25,0.5,0.75,1]}}}},
{"data":{"values":[{}]},"mark":{"type":"rule","color":"#1a1a1a","strokeWidth":1.4},"encoding":{"x":{"datum":0,"axis":null,"title":null},"x2":{"datum":25},"y":{"datum":0,"title":null,"axis":{"values":[0,0.25,0.5,0.75,1]}}}},
{"data":{"name":"dashA"},"mark":{"type":"rule","color":"#000","strokeDash":[5,3],"strokeWidth":1.5},"encoding":{"x":{"field":"x","type":"quantitative","axis":null,"title":null},"y":{"datum":0,"title":null,"axis":{"values":[0,0.25,0.5,0.75,1]}},"y2":{"datum":1}}}]},
{"width":195,"height":43,"view":{"fill":"#ffffff"},"layer":[
{"data":{"values":[{"x":0,"y":0},{"x":1.37,"y":0},{"x":1.415,"y":0.12},{"x":1.455,"y":0.6},{"x":1.5,"y":1},{"x":1.545,"y":0.6},{"x":1.585,"y":0.12},{"x":1.63,"y":0},{"x":2,"y":0}]},"mark":{"type":"area","interpolate":"monotone","color":"#f6a596","line":{"color":"#1a1a1a","strokeWidth":1.3}},"encoding":{"x":{"field":"x","type":"quantitative","title":null,"scale":{"domain":[0,2],"range":[0,155]},"axis":null},"y":{"field":"y","type":"quantitative","title":null,"scale":{"domain":[0,1],"range":[38,3]},"axis":{"values":[0,0.25,0.5,0.75,1]}}}},
{"data":{"values":[{}]},"mark":{"type":"rule","color":"#1a1a1a","strokeWidth":1.4},"encoding":{"x":{"datum":0,"axis":null,"title":null},"x2":{"datum":2},"y":{"datum":0,"title":null,"axis":{"values":[0,0.25,0.5,0.75,1]}}}},
{"data":{"name":"dashB"},"mark":{"type":"rule","color":"#000","strokeDash":[5,3],"strokeWidth":1.5},"encoding":{"x":{"field":"x","type":"quantitative","axis":null,"title":null},"y":{"datum":0,"title":null,"axis":{"values":[0,0.25,0.5,0.75,1]}},"y2":{"datum":1}}}]},
{"width":185,"height":43,"view":{"fill":"#ffffff"},"data":{"values":[{"d":"0","v":1},{"d":"1","v":0},{"d":"2","v":0},{"d":"3","v":0},{"d":"4","v":0},{"d":"5","v":0},{"d":"6","v":0},{"d":"7","v":0},{"d":"8","v":0},{"d":"ns","v":0}]},"mark":{"type":"bar","color":"#c0c0c0","stroke":"#222","strokeWidth":1.6},"encoding":{"x":{"field":"d","type":"nominal","sort":null,"title":null,"scale":{"domain":["0","1","2","3","4","5","6","7","8","ns"],"range":[7,154],"paddingInner":0.18,"paddingOuter":0},"axis":null},"y":{"field":"v","type":"quantitative","title":null,"scale":{"domain":[0,1],"range":[35,6]},"axis":{"values":[0,0.2,0.4,0.6,0.8,1]}}}},

{"width":134,"height":43,"view":{"fill":"#d6ebf3"},"data":{"values":[{"s":"MAL37"}]},"mark":{"type":"text","align":"left","baseline":"alphabetic","dy":9,"fontSize":27,"color":"#000"},"encoding":{"text":{"field":"s"},"x":{"datum":0,"type":"quantitative","scale":{"domain":[0,1],"range":[14,134]},"axis":null}}},
{"width":182,"height":43,"view":{"fill":"#d6ebf3"},"layer":[
{"data":{"values":[{"x":0,"y":0},{"x":19.4,"y":0},{"x":19.84,"y":0.12},{"x":20.21,"y":0.6},{"x":20.65,"y":1},{"x":21.09,"y":0.6},{"x":21.46,"y":0.12},{"x":21.9,"y":0},{"x":25,"y":0}]},"mark":{"type":"area","interpolate":"monotone","color":"#f6a596","line":{"color":"#1a1a1a","strokeWidth":1.3}},"encoding":{"x":{"field":"x","type":"quantitative","title":null,"scale":{"domain":[0,25],"range":[0,157]},"axis":null},"y":{"field":"y","type":"quantitative","title":null,"scale":{"domain":[0,1],"range":[38,3]},"axis":{"values":[0,0.25,0.5,0.75,1]}}}},
{"data":{"values":[{}]},"mark":{"type":"rule","color":"#1a1a1a","strokeWidth":1.4},"encoding":{"x":{"datum":0,"axis":null,"title":null},"x2":{"datum":25},"y":{"datum":0,"title":null,"axis":{"values":[0,0.25,0.5,0.75,1]}}}},
{"data":{"name":"dashA"},"mark":{"type":"rule","color":"#000","strokeDash":[5,3],"strokeWidth":1.5},"encoding":{"x":{"field":"x","type":"quantitative","axis":null,"title":null},"y":{"datum":0,"title":null,"axis":{"values":[0,0.25,0.5,0.75,1]}},"y2":{"datum":1}}}]},
{"width":195,"height":43,"view":{"fill":"#d6ebf3"},"layer":[
{"data":{"values":[{"x":0,"y":0},{"x":1.37,"y":0},{"x":1.415,"y":0.12},{"x":1.455,"y":0.6},{"x":1.5,"y":1},{"x":1.545,"y":0.6},{"x":1.585,"y":0.12},{"x":1.63,"y":0},{"x":2,"y":0}]},"mark":{"type":"area","interpolate":"monotone","color":"#f6a596","line":{"color":"#1a1a1a","strokeWidth":1.3}},"encoding":{"x":{"field":"x","type":"quantitative","title":null,"scale":{"domain":[0,2],"range":[0,155]},"axis":null},"y":{"field":"y","type":"quantitative","title":null,"scale":{"domain":[0,1],"range":[38,3]},"axis":{"values":[0,0.25,0.5,0.75,1]}}}},
{"data":{"values":[{}]},"mark":{"type":"rule","color":"#1a1a1a","strokeWidth":1.4},"encoding":{"x":{"datum":0,"axis":null,"title":null},"x2":{"datum":2},"y":{"datum":0,"title":null,"axis":{"values":[0,0.25,0.5,0.75,1]}}}},
{"data":{"name":"dashB"},"mark":{"type":"rule","color":"#000","strokeDash":[5,3],"strokeWidth":1.5},"encoding":{"x":{"field":"x","type":"quantitative","axis":null,"title":null},"y":{"datum":0,"title":null,"axis":{"values":[0,0.25,0.5,0.75,1]}},"y2":{"datum":1}}}]},
{"width":185,"height":43,"view":{"fill":"#d6ebf3"},"data":{"values":[{"d":"0","v":1},{"d":"1","v":0},{"d":"2","v":0},{"d":"3","v":0},{"d":"4","v":0},{"d":"5","v":0},{"d":"6","v":0},{"d":"7","v":0},{"d":"8","v":0},{"d":"ns","v":0}]},"mark":{"type":"bar","color":"#c0c0c0","stroke":"#222","strokeWidth":1.6},"encoding":{"x":{"field":"d","type":"nominal","sort":null,"title":null,"scale":{"domain":["0","1","2","3","4","5","6","7","8","ns"],"range":[7,154],"paddingInner":0.18,"paddingOuter":0},"axis":null},"y":{"field":"v","type":"quantitative","title":null,"scale":{"domain":[0,1],"range":[35,6]},"axis":{"values":[0,0.2,0.4,0.6,0.8,1]}}}},

{"width":134,"height":43,"view":{"fill":"#ffffff"},"data":{"values":[{"s":"MAL38"}]},"mark":{"type":"text","align":"left","baseline":"alphabetic","dy":9,"fontSize":27,"color":"#000"},"encoding":{"text":{"field":"s"},"x":{"datum":0,"type":"quantitative","scale":{"domain":[0,1],"range":[14,134]},"axis":null}}},
{"width":182,"height":43,"view":{"fill":"#ffffff"},"layer":[
{"data":{"values":[{"x":0,"y":0},{"x":19.4,"y":0},{"x":19.84,"y":0.12},{"x":20.21,"y":0.6},{"x":20.65,"y":1},{"x":21.09,"y":0.6},{"x":21.46,"y":0.12},{"x":21.9,"y":0},{"x":25,"y":0}]},"mark":{"type":"area","interpolate":"monotone","color":"#f6a596","line":{"color":"#1a1a1a","strokeWidth":1.3}},"encoding":{"x":{"field":"x","type":"quantitative","title":null,"scale":{"domain":[0,25],"range":[0,157]},"axis":null},"y":{"field":"y","type":"quantitative","title":null,"scale":{"domain":[0,1],"range":[38,3]},"axis":{"values":[0,0.25,0.5,0.75,1]}}}},
{"data":{"values":[{}]},"mark":{"type":"rule","color":"#1a1a1a","strokeWidth":1.4},"encoding":{"x":{"datum":0,"axis":null,"title":null},"x2":{"datum":25},"y":{"datum":0,"title":null,"axis":{"values":[0,0.25,0.5,0.75,1]}}}},
{"data":{"name":"dashA"},"mark":{"type":"rule","color":"#000","strokeDash":[5,3],"strokeWidth":1.5},"encoding":{"x":{"field":"x","type":"quantitative","axis":null,"title":null},"y":{"datum":0,"title":null,"axis":{"values":[0,0.25,0.5,0.75,1]}},"y2":{"datum":1}}}]},
{"width":195,"height":43,"view":{"fill":"#ffffff"},"layer":[
{"data":{"values":[{"x":0,"y":0},{"x":1.37,"y":0},{"x":1.415,"y":0.12},{"x":1.455,"y":0.6},{"x":1.5,"y":1},{"x":1.545,"y":0.6},{"x":1.585,"y":0.12},{"x":1.63,"y":0},{"x":2,"y":0}]},"mark":{"type":"area","interpolate":"monotone","color":"#f6a596","line":{"color":"#1a1a1a","strokeWidth":1.3}},"encoding":{"x":{"field":"x","type":"quantitative","title":null,"scale":{"domain":[0,2],"range":[0,155]},"axis":null},"y":{"field":"y","type":"quantitative","title":null,"scale":{"domain":[0,1],"range":[38,3]},"axis":{"values":[0,0.25,0.5,0.75,1]}}}},
{"data":{"values":[{}]},"mark":{"type":"rule","color":"#1a1a1a","strokeWidth":1.4},"encoding":{"x":{"datum":0,"axis":null,"title":null},"x2":{"datum":2},"y":{"datum":0,"title":null,"axis":{"values":[0,0.25,0.5,0.75,1]}}}},
{"data":{"name":"dashB"},"mark":{"type":"rule","color":"#000","strokeDash":[5,3],"strokeWidth":1.5},"encoding":{"x":{"field":"x","type":"quantitative","axis":null,"title":null},"y":{"datum":0,"title":null,"axis":{"values":[0,0.25,0.5,0.75,1]}},"y2":{"datum":1}}}]},
{"width":185,"height":43,"view":{"fill":"#ffffff"},"data":{"values":[{"d":"0","v":1},{"d":"1","v":0},{"d":"2","v":0},{"d":"3","v":0},{"d":"4","v":0},{"d":"5","v":0},{"d":"6","v":0},{"d":"7","v":0},{"d":"8","v":0},{"d":"ns","v":0}]},"mark":{"type":"bar","color":"#c0c0c0","stroke":"#222","strokeWidth":1.6},"encoding":{"x":{"field":"d","type":"nominal","sort":null,"title":null,"scale":{"domain":["0","1","2","3","4","5","6","7","8","ns"],"range":[7,154],"paddingInner":0.18,"paddingOuter":0},"axis":null},"y":{"field":"v","type":"quantitative","title":null,"scale":{"domain":[0,1],"range":[35,6]},"axis":{"values":[0,0.2,0.4,0.6,0.8,1]}}}},

{"width":134,"height":43,"view":{"fill":"#d6ebf3"},"data":{"values":[{"s":"MAL43"}]},"mark":{"type":"text","align":"left","baseline":"alphabetic","dy":9,"fontSize":27,"color":"#000"},"encoding":{"text":{"field":"s"},"x":{"datum":0,"type":"quantitative","scale":{"domain":[0,1],"range":[14,134]},"axis":null}}},
{"width":182,"height":43,"view":{"fill":"#d6ebf3"},"layer":[
{"data":{"values":[{"x":0,"y":0},{"x":6.6,"y":0},{"x":7.3,"y":0.07},{"x":7.9,"y":0.12},{"x":8.6,"y":0.08},{"x":9.3,"y":0.09},{"x":10.0,"y":0.12},{"x":10.6,"y":0.07},{"x":11.2,"y":0.02},{"x":12,"y":0},{"x":15.2,"y":0},{"x":15.9,"y":0.02},{"x":16.6,"y":0},{"x":19.5,"y":0},{"x":19.9,"y":0.06},{"x":20.25,"y":0.3},{"x":20.65,"y":0.5},{"x":21.05,"y":0.3},{"x":21.4,"y":0.06},{"x":21.8,"y":0},{"x":25,"y":0}]},"mark":{"type":"area","interpolate":"monotone","color":"#f6a596","line":{"color":"#1a1a1a","strokeWidth":1.3}},"encoding":{"x":{"field":"x","type":"quantitative","title":null,"scale":{"domain":[0,25],"range":[0,157]},"axis":null},"y":{"field":"y","type":"quantitative","title":null,"scale":{"domain":[0,1],"range":[38,3]},"axis":{"values":[0,0.25,0.5,0.75,1]}}}},
{"data":{"values":[{}]},"mark":{"type":"rule","color":"#1a1a1a","strokeWidth":1.4},"encoding":{"x":{"datum":0,"axis":null,"title":null},"x2":{"datum":25},"y":{"datum":0,"title":null,"axis":{"values":[0,0.25,0.5,0.75,1]}}}},
{"data":{"name":"dashA"},"mark":{"type":"rule","color":"#000","strokeDash":[5,3],"strokeWidth":1.5},"encoding":{"x":{"field":"x","type":"quantitative","axis":null,"title":null},"y":{"datum":0,"title":null,"axis":{"values":[0,0.25,0.5,0.75,1]}},"y2":{"datum":1}}}]},
{"width":195,"height":43,"view":{"fill":"#d6ebf3"},"layer":[
{"data":{"values":[{"x":0,"y":0},{"x":0.27,"y":0},{"x":0.32,"y":0.1},{"x":0.37,"y":0.24},{"x":0.42,"y":0.3},{"x":0.47,"y":0.24},{"x":0.52,"y":0.1},{"x":0.58,"y":0.03},{"x":0.7,"y":0.02},{"x":0.9,"y":0.02},{"x":1.1,"y":0.02},{"x":1.2,"y":0.035},{"x":1.3,"y":0.02},{"x":1.38,"y":0.04},{"x":1.43,"y":0.18},{"x":1.5,"y":0.43},{"x":1.57,"y":0.18},{"x":1.62,"y":0.03},{"x":1.66,"y":0},{"x":2,"y":0}]},"mark":{"type":"area","interpolate":"monotone","color":"#f6a596","line":{"color":"#1a1a1a","strokeWidth":1.3}},"encoding":{"x":{"field":"x","type":"quantitative","title":null,"scale":{"domain":[0,2],"range":[0,155]},"axis":null},"y":{"field":"y","type":"quantitative","title":null,"scale":{"domain":[0,1],"range":[38,3]},"axis":{"values":[0,0.25,0.5,0.75,1]}}}},
{"data":{"values":[{}]},"mark":{"type":"rule","color":"#1a1a1a","strokeWidth":1.4},"encoding":{"x":{"datum":0,"axis":null,"title":null},"x2":{"datum":2},"y":{"datum":0,"title":null,"axis":{"values":[0,0.25,0.5,0.75,1]}}}},
{"data":{"name":"dashB"},"mark":{"type":"rule","color":"#000","strokeDash":[5,3],"strokeWidth":1.5},"encoding":{"x":{"field":"x","type":"quantitative","axis":null,"title":null},"y":{"datum":0,"title":null,"axis":{"values":[0,0.25,0.5,0.75,1]}},"y2":{"datum":1}}}]},
{"width":185,"height":43,"view":{"fill":"#d6ebf3"},"data":{"values":[{"d":"0","v":0.55},{"d":"1","v":0.05},{"d":"2","v":0.32},{"d":"3","v":0},{"d":"4","v":0},{"d":"5","v":0},{"d":"6","v":0},{"d":"7","v":0},{"d":"8","v":0},{"d":"ns","v":0}]},"mark":{"type":"bar","color":"#c0c0c0","stroke":"#222","strokeWidth":1.6},"encoding":{"x":{"field":"d","type":"nominal","sort":null,"title":null,"scale":{"domain":["0","1","2","3","4","5","6","7","8","ns"],"range":[7,154],"paddingInner":0.18,"paddingOuter":0},"axis":null},"y":{"field":"v","type":"quantitative","title":null,"scale":{"domain":[0,1],"range":[35,6]},"axis":{"values":[0,0.2,0.4,0.6,0.8,1]}}}},

{"width":134,"height":43,"view":{"fill":"#ffffff"},"data":{"values":[{"s":"MAL48"}]},"mark":{"type":"text","align":"left","baseline":"alphabetic","dy":9,"fontSize":27,"color":"#000"},"encoding":{"text":{"field":"s"},"x":{"datum":0,"type":"quantitative","scale":{"domain":[0,1],"range":[14,134]},"axis":null}}},
{"width":182,"height":43,"view":{"fill":"#ffffff"},"layer":[
{"data":{"values":[{"x":0,"y":0},{"x":1.8,"y":0},{"x":2.5,"y":0.04},{"x":3.3,"y":0.12},{"x":4.0,"y":0.2},{"x":4.6,"y":0.25},{"x":5.0,"y":0.14},{"x":5.3,"y":0.03},{"x":5.6,"y":0},{"x":8.6,"y":0},{"x":9.1,"y":0.01},{"x":9.6,"y":0},{"x":19.5,"y":0},{"x":19.9,"y":0.061},{"x":20.25,"y":0.31},{"x":20.65,"y":0.51},{"x":21.05,"y":0.31},{"x":21.4,"y":0.061},{"x":21.8,"y":0},{"x":25,"y":0}]},"mark":{"type":"area","interpolate":"monotone","color":"#f6a596","line":{"color":"#1a1a1a","strokeWidth":1.3}},"encoding":{"x":{"field":"x","type":"quantitative","title":"Total IBD (Mb)","scale":{"domain":[0,25],"range":[0,157]},"axis":{"values":[0,5,10,15,20,25],"labels":true,"ticks":true,"tickSize":3,"labelAngle":90,"labelFlush":false,"offset":3,"labelPadding":2,"titlePadding":12}},"y":{"field":"y","type":"quantitative","title":null,"scale":{"domain":[0,1],"range":[38,3]},"axis":{"values":[0,0.25,0.5,0.75,1]}}}},
{"data":{"values":[{}]},"mark":{"type":"rule","color":"#1a1a1a","strokeWidth":1.4},"encoding":{"x":{"datum":0,"title":"Total IBD (Mb)","axis":{"values":[0,5,10,15,20,25],"labels":true,"ticks":true,"tickSize":3,"labelAngle":90,"labelFlush":false,"offset":3,"labelPadding":2,"titlePadding":12}},"x2":{"datum":25},"y":{"datum":0,"title":null,"axis":{"values":[0,0.25,0.5,0.75,1]}}}},
{"data":{"name":"dashA"},"mark":{"type":"rule","color":"#000","strokeDash":[5,3],"strokeWidth":1.5},"encoding":{"x":{"field":"x","type":"quantitative","title":"Total IBD (Mb)","axis":{"values":[0,5,10,15,20,25],"labels":true,"ticks":true,"tickSize":3,"labelAngle":90,"labelFlush":false,"offset":3,"labelPadding":2,"titlePadding":12}},"y":{"datum":0,"title":null,"axis":{"values":[0,0.25,0.5,0.75,1]}},"y2":{"datum":1}}}]},
{"width":195,"height":43,"view":{"fill":"#ffffff"},"layer":[
{"data":{"values":[{"x":0,"y":0},{"x":0.18,"y":0},{"x":0.23,"y":0.08},{"x":0.29,"y":0.25},{"x":0.34,"y":0.35},{"x":0.39,"y":0.27},{"x":0.44,"y":0.1},{"x":0.49,"y":0.02},{"x":0.54,"y":0},{"x":1.38,"y":0},{"x":1.42,"y":0.061},{"x":1.458,"y":0.31},{"x":1.5,"y":0.51},{"x":1.542,"y":0.31},{"x":1.58,"y":0.061},{"x":1.62,"y":0},{"x":2,"y":0}]},"mark":{"type":"area","interpolate":"monotone","color":"#f6a596","line":{"color":"#1a1a1a","strokeWidth":1.3}},"encoding":{"x":{"field":"x","type":"quantitative","title":"Mean IBD length (Mb)","scale":{"domain":[0,2],"range":[0,155]},"axis":{"values":[0,0.5,1,1.5,2],"labels":true,"ticks":true,"tickSize":3,"labelAngle":90,"labelFlush":false,"offset":3,"labelPadding":2,"titlePadding":12,"labelExpr":"datum.value==0?'0':format(datum.value,'.1f')"}},"y":{"field":"y","type":"quantitative","title":null,"scale":{"domain":[0,1],"range":[38,3]},"axis":{"values":[0,0.25,0.5,0.75,1]}}}},
{"data":{"values":[{}]},"mark":{"type":"rule","color":"#1a1a1a","strokeWidth":1.4},"encoding":{"x":{"datum":0,"title":"Mean IBD length (Mb)","axis":{"values":[0,0.5,1,1.5,2],"labels":true,"ticks":true,"tickSize":3,"labelAngle":90,"labelFlush":false,"offset":3,"labelPadding":2,"titlePadding":12,"labelExpr":"datum.value==0?'0':format(datum.value,'.1f')"}},"x2":{"datum":2},"y":{"datum":0,"title":null,"axis":{"values":[0,0.25,0.5,0.75,1]}}}},
{"data":{"name":"dashB"},"mark":{"type":"rule","color":"#000","strokeDash":[5,3],"strokeWidth":1.5},"encoding":{"x":{"field":"x","type":"quantitative","title":"Mean IBD length (Mb)","axis":{"values":[0,0.5,1,1.5,2],"labels":true,"ticks":true,"tickSize":3,"labelAngle":90,"labelFlush":false,"offset":3,"labelPadding":2,"titlePadding":12,"labelExpr":"datum.value==0?'0':format(datum.value,'.1f')"}},"y":{"datum":0,"title":null,"axis":{"values":[0,0.25,0.5,0.75,1]}},"y2":{"datum":1}}}]},
{"width":185,"height":43,"view":{"fill":"#ffffff"},"layer":[
{"data":{"values":[{"d":"0","v":0.6},{"d":"1","v":0},{"d":"2","v":0},{"d":"3","v":0.26},{"d":"4","v":0.13},{"d":"5","v":0},{"d":"6","v":0},{"d":"7","v":0},{"d":"8","v":0},{"d":"ns","v":0}]},"mark":{"type":"bar","color":"#c0c0c0","stroke":"#222","strokeWidth":1.6},"encoding":{"x":{"field":"d","type":"nominal","sort":null,"title":["Degree of","relateness"],"scale":{"domain":["0","1","2","3","4","5","6","7","8","ns"],"range":[7,154],"paddingInner":0.18,"paddingOuter":0},"axis":{"labels":true,"domain":false,"ticks":false,"labelAngle":0,"labelFontSize":14,"labelPadding":3,"labelExpr":"datum.value=='ns'?'':datum.label","titlePadding":12,"titleLineHeight":14}},"y":{"field":"v","type":"quantitative","title":null,"scale":{"domain":[0,1],"range":[35,6]},"axis":{"values":[0,0.2,0.4,0.6,0.8,1]}}}},
{"data":{"values":[{"d":"ns"}]},"mark":{"type":"text","text":"ns","angle":90,"align":"left","baseline":"middle","fontSize":14,"color":"#111"},"encoding":{"x":{"field":"d","type":"nominal","title":["Degree of","relateness"],"axis":{"labels":true,"domain":false,"ticks":false,"labelAngle":0,"labelFontSize":14,"labelPadding":3,"labelExpr":"datum.value=='ns'?'':datum.label","titlePadding":12,"titleLineHeight":14}},"y":{"datum":-0.45,"title":null,"axis":{"values":[0,0.2,0.4,0.6,0.8,1]}}}}]}
],
"config":{
"view":{"stroke":null},
"font":"Liberation Sans",
"axis":{"grid":false,"domainColor":"#1a1a1a","tickColor":"#1a1a1a","domainWidth":1.4,"tickWidth":1.4,"labelFont":"Liberation Sans","labelColor":"#111","labelFontSize":12.5,"titleFont":"Liberation Sans","titleColor":"#111","titleFontWeight":"bold","titleFontSize":13.5},
"axisX":{"labels":false,"ticks":false},
"axisY":{"labels":false,"tickSize":4},
"title":{"font":"Liberation Sans","fontSize":26,"fontWeight":"normal","anchor":"start","frame":"group","color":"#000","baseline":"alphabetic"}
}
}
